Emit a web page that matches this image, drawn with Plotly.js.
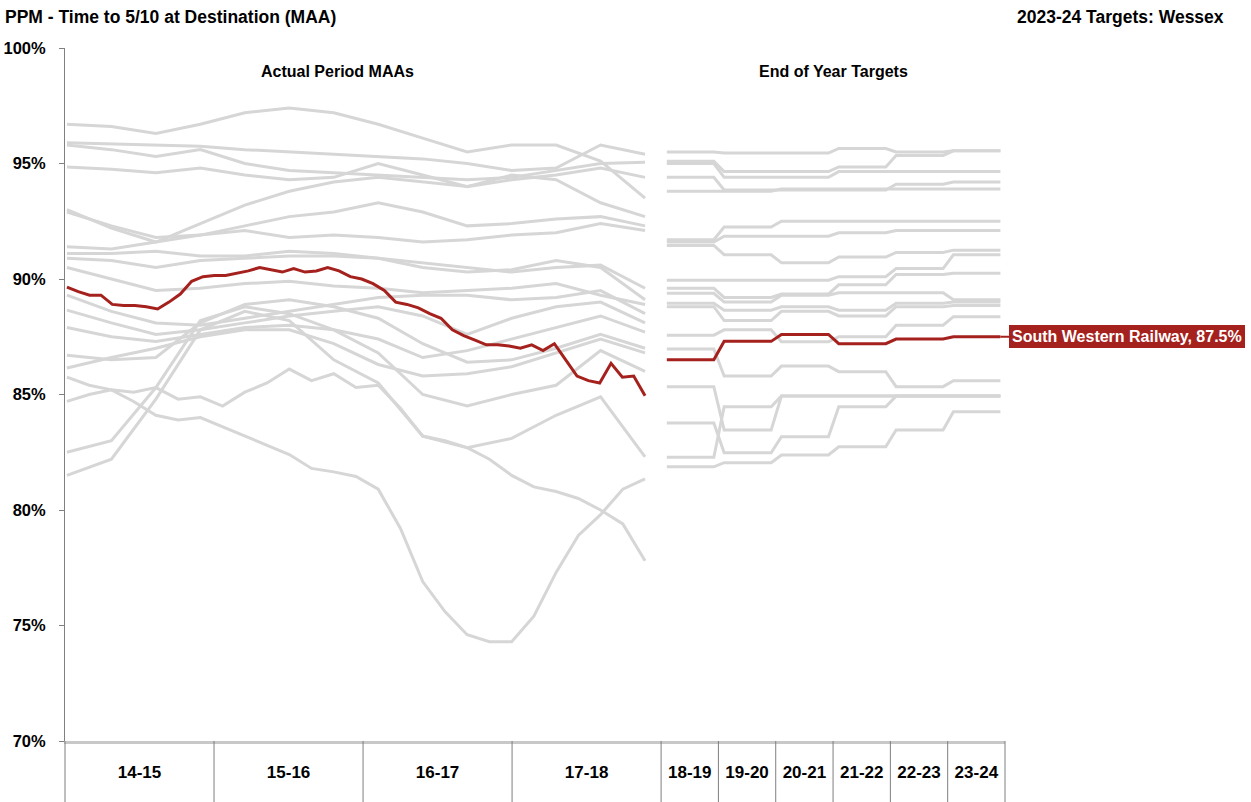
<!DOCTYPE html>
<html><head><meta charset="utf-8">
<script src="https://cdn.plot.ly/plotly-3.0.1.min.js"></script>
<style>html,body{margin:0;padding:0;background:#fff}#chart{width:1251px;height:802px}</style>
</head><body><div id="chart"></div>
<script>
// ---------------- DATA ----------------
const actualYears = ['14-15','15-16','16-17','17-18'];
const targetYears = ['18-19','19-20','20-21','21-22','22-23','23-24'];
const periodsPerYear = 13;   // periods per actual year
const targetYearUnits = 5;   // width of a target year in period units

const swrName = 'South Western Railway';
const swrActual = [89.65,89.45,89.3,89.3,88.9,88.85,88.85,88.8,88.7,89.0,89.35,89.9,90.1,90.15,90.15,90.25,90.35,90.5,90.4,90.3,90.45,90.3,90.35,90.5,90.35,90.1,90.0,89.8,89.5,89.0,88.9,88.75,88.5,88.3,87.8,87.55,87.35,87.15,87.15,87.1,87.0,87.15,86.9,87.2,86.5,85.8,85.6,85.5,86.35,85.75,85.8,84.95];
const swrTargets = [86.5,87.3,87.6,87.2,87.4,87.5];

const otherU1 = [96.7,96.6,96.3,96.7,97.2,97.4,97.2,96.7,96.1,95.5,95.8,95.8,95.1,93.5];
const otherU2 = [95.9,95.85,95.8,95.75,95.6,95.5,95.4,95.3,95.2,95.0,94.7,94.8,95.8,95.4];
const otherU3 = [95.8,95.6,95.3,95.6,95.0,94.7,94.6,94.5,94.4,94.3,94.4,94.7,95.0,95.05];
const otherU4 = [94.85,94.75,94.6,94.8,94.5,94.3,94.4,95.0,94.5,94.0,94.3,94.5,94.8,94.4];
const otherU5 = [93.0,92.2,91.6,92.4,93.2,93.8,94.2,94.4,94.2,94.0,94.5,94.3,93.3,92.7];
const otherU6 = [92.9,92.3,91.8,91.9,92.3,92.7,92.9,93.3,92.9,92.3,92.4,92.6,92.7,92.3];
const otherU7 = [91.4,91.3,91.6,91.9,92.1,91.8,91.9,91.8,91.6,91.7,91.9,92.0,92.4,92.1];
const otherU8 = [91.1,91.1,91.2,91.0,91.0,91.2,91.1,90.9,90.7,90.5,90.3,90.5,90.6,89.6];
const otherU9 = [90.9,90.8,90.5,90.8,90.9,91.0,91.0,90.9,90.5,90.3,90.4,90.8,90.5,89.1];
const otherU10 = [90.5,90.0,89.5,89.6,89.8,89.9,89.7,89.6,89.4,89.5,89.6,89.8,89.3,88.9];
const otherL1 = [89.3,88.6,88.1,88.0,88.3,88.6,88.9,89.2,89.3,89.3,89.1,89.2,89.5,88.5];
const otherL2 = [88.65,88.1,87.6,87.8,88.1,88.4,88.6,88.8,88.4,87.6,88.3,88.8,89.0,88.1];
const otherL3 = [87.9,87.5,87.3,87.6,87.9,88.0,87.8,87.4,86.6,86.9,87.4,87.9,88.4,87.7];
const otherL4 = [86.7,86.5,86.6,88.1,88.9,89.1,88.8,88.3,87.2,86.4,86.5,87.0,87.6,87.0];
const otherL5 = [86.15,86.6,87.0,87.5,87.8,87.8,87.2,86.3,85.8,85.9,86.2,86.8,87.4,86.8];
const otherS1 = [82.5,83.0,85.3,88.2,88.8,88.5,87.8,86.8,85.0,84.5,85.0,85.4,86.9,86.0];
const otherS2 = [81.5,82.2,84.8,87.8,88.6,88.2,86.5,85.5,83.2,82.7,83.1,84.1,84.9,82.3];
const otherD  = [85.75,85.4,85.2,84.7,84.1,83.9,84.0,83.6,83.2,82.8,82.4,81.8,81.65,81.45,80.9,79.2,76.9,75.6,74.6,74.3,74.3,75.4,77.3,78.9,79.8,80.9,81.35];
const otherZ  = [84.7,85.0,85.2,85.1,85.3,84.8,84.9,84.5,85.1,85.5,86.1,85.6,85.9,85.3,85.4,84.4,83.2,83.0,82.7,82.2,81.5,81.0,80.8,80.5,80.0,79.4,77.8];
const otherActual = [otherU1,otherU2,otherU3,otherU4,otherU5,otherU6,otherU7,otherU8,otherU9,otherU10,
                     otherL1,otherL2,otherL3,otherL4,otherL5,otherS1,otherS2,otherD,otherZ];

const tgt1 = [95.5,95.45,95.45,95.65,95.5,95.55];
const tgt2 = [95.1,94.65,94.65,94.85,95.35,95.55];
const tgt3 = [95.0,94.4,94.4,94.65,94.65,94.65];
const tgt4 = [94.4,93.85,93.85,93.85,94.1,94.2];
const tgt5 = [93.8,93.8,93.9,93.9,93.9,93.9];
const tgt6 = [91.7,92.25,92.5,92.5,92.5,92.5];
const tgt7 = [91.6,91.85,91.85,92.0,92.1,92.1];
const tgt8 = [91.45,91.05,90.7,90.95,91.15,91.25];
const tgt9 = [89.95,89.95,89.95,90.1,90.45,91.05];
const tgt10 = [89.6,89.2,89.35,89.75,90.2,90.25];
const tgt11 = [89.38,89.0,89.3,89.4,89.4,89.1];
const tgt12 = [88.95,88.65,88.8,88.65,88.95,89.0];
const tgt13 = [88.8,88.2,88.6,88.4,88.8,88.85];
const tgt14 = [87.57,87.8,87.28,87.5,88.0,88.37];
const tgt15 = [86.97,85.8,86.23,85.99,85.34,85.6];
const tgt16 = [85.34,83.46,84.93,84.93,84.93,84.93];
const tgt17 = [83.77,82.48,83.17,84.47,84.93,84.93];
const tgt18 = [82.28,84.47,84.93,84.93,84.93,84.93];
const tgt19 = [81.87,82.05,82.38,82.74,83.46,84.25];
const otherTargets = [tgt1,tgt2,tgt3,tgt4,tgt5,tgt6,tgt7,tgt8,tgt9,tgt10,tgt11,tgt12,tgt13,tgt14,tgt15,tgt16,tgt17,tgt18,tgt19];

const yTickVals = [70,75,80,85,90,95,100];
const yTickText = ['70%','75%','80%','85%','90%','95%','100%'];

// ---------------- STYLE / GEOMETRY ----------------
const GREY = '#d6d6d6', RED = '#a5211d';
const FONT = 'Arial, "Liberation Sans", Helvetica, sans-serif';
const actualSpan = actualYears.length * periodsPerYear;        // 52
const xMax = actualSpan + targetYears.length * targetYearUnits; // 82
const actStart = 0.17, actEnd = actualSpan - 1.4;

function actualX(n){ const a=[]; for(let i=0;i<n;i++) a.push(actStart + i*(actEnd-actStart)/(n-1)); return a; }
function targetXY(vals){
  const xs=[], ys=[];
  vals.forEach((v,k)=>{ const s = actualSpan + k*targetYearUnits; xs.push(s+0.5, s+4.6); ys.push(v,v); });
  return {x:xs,y:ys};
}

const traces = [];
otherActual.forEach(arr=>traces.push({x:actualX(arr.length), y:arr, mode:'lines', line:{color:GREY,width:3}, hoverinfo:'skip'}));
otherTargets.forEach(arr=>{ const p=targetXY(arr); traces.push({x:p.x, y:p.y, mode:'lines', line:{color:GREY,width:3}, hoverinfo:'skip'}); });
traces.push({x:actualX(swrActual.length), y:swrActual, mode:'lines', line:{color:RED,width:3}, name:swrName});
const swrT = targetXY(swrTargets);
traces.push({x:swrT.x, y:swrT.y, mode:'lines', line:{color:RED,width:3}, name:swrName});

// year boundaries & label centres
const bounds = [], centres = [];
for (let k=0;k<=actualYears.length;k++) bounds.push(k*periodsPerYear);
for (let k=1;k<=targetYears.length;k++) bounds.push(actualSpan + k*targetYearUnits);
for (let k=0;k<actualYears.length;k++) centres.push((k+0.5)*periodsPerYear);
for (let k=0;k<targetYears.length;k++) centres.push(actualSpan + (k+0.5)*targetYearUnits);
const allYearLabels = actualYears.concat(targetYears).map(s=>'<b>'+s+'</b>');

const plotH = 802-48-61;
const shapes = bounds.map(b=>({type:'line', xref:'paper', yref:'paper', x0:b/xMax, x1:b/xMax, y0:0, y1:-61/plotH, line:{color:'#7f7f7f', width:1}}));

const lastSwr = swrTargets[swrTargets.length-1];
const annotations = [
  {xref:'paper', yref:'paper', x:1+(1226-1005)/940, y:1+31/plotH, xanchor:'right', yanchor:'middle', showarrow:false,
   text:'<b>2023-24 Targets: Wessex</b>', font:{family:FONT, size:17.5, color:'#000'}},
  {xref:'x', yref:'y', x:23.8, y:99.0, xanchor:'center', yanchor:'middle', showarrow:false,
   text:'<b>Actual Period MAAs</b>', font:{family:FONT, size:16, color:'#000'}},
  {xref:'x', yref:'y', x:actualSpan + targetYears.length*targetYearUnits/2, y:99.0, xanchor:'center', yanchor:'middle', showarrow:false,
   text:'<b>End of Year Targets</b>', font:{family:FONT, size:16, color:'#000'}},
  {xref:'x', yref:'y', x:swrT.x[swrT.x.length-1], y:lastSwr, axref:'pixel', ayref:'pixel', ax:9, ay:0,
   showarrow:true, arrowhead:0, arrowwidth:2, arrowcolor:RED, xanchor:'left', yanchor:'middle',
   text:'<b>'+swrName+', '+lastSwr.toFixed(1)+'%</b>', font:{family:FONT, size:16, color:'#fff'},
   bgcolor:RED, borderpad:3, bordercolor:RED, borderwidth:0}
];

const layout = {
  width:1251, height:802,
  margin:{l:65, r:246, t:48, b:61, pad:0},
  paper_bgcolor:'#fff', plot_bgcolor:'#fff',
  showlegend:false,
  title:{text:'<b>PPM - Time to 5/10 at Destination (MAA)</b>', xref:'container', yref:'container', x:5/1251, xanchor:'left', y:1-17/802, yanchor:'middle',
         font:{family:FONT, size:17.5, color:'#000'}},
  xaxis:{range:[0,xMax], showgrid:false, zeroline:false, showline:true, linecolor:'#c8c8c8', linewidth:3,
         tickmode:'array', tickvals:centres, ticktext:allYearLabels, ticks:'', ticklabelstandoff:14,
         tickfont:{family:FONT, size:17, color:'#000'}, fixedrange:true},
  yaxis:{range:[70,100], showgrid:false, zeroline:false, showline:true, linecolor:'#808080', linewidth:1,
         tickmode:'array', tickvals:yTickVals, ticktext:yTickText.map(s=>'<b>'+s+'</b>'),
         ticks:'outside', ticklen:5, tickcolor:'#808080', ticklabelstandoff:10,
         tickfont:{family:FONT, size:16.5, color:'#000'}, fixedrange:true},
  shapes:shapes, annotations:annotations
};

Plotly.newPlot('chart', traces, layout, {staticPlot:true, displayModeBar:false});
</script></body></html>
